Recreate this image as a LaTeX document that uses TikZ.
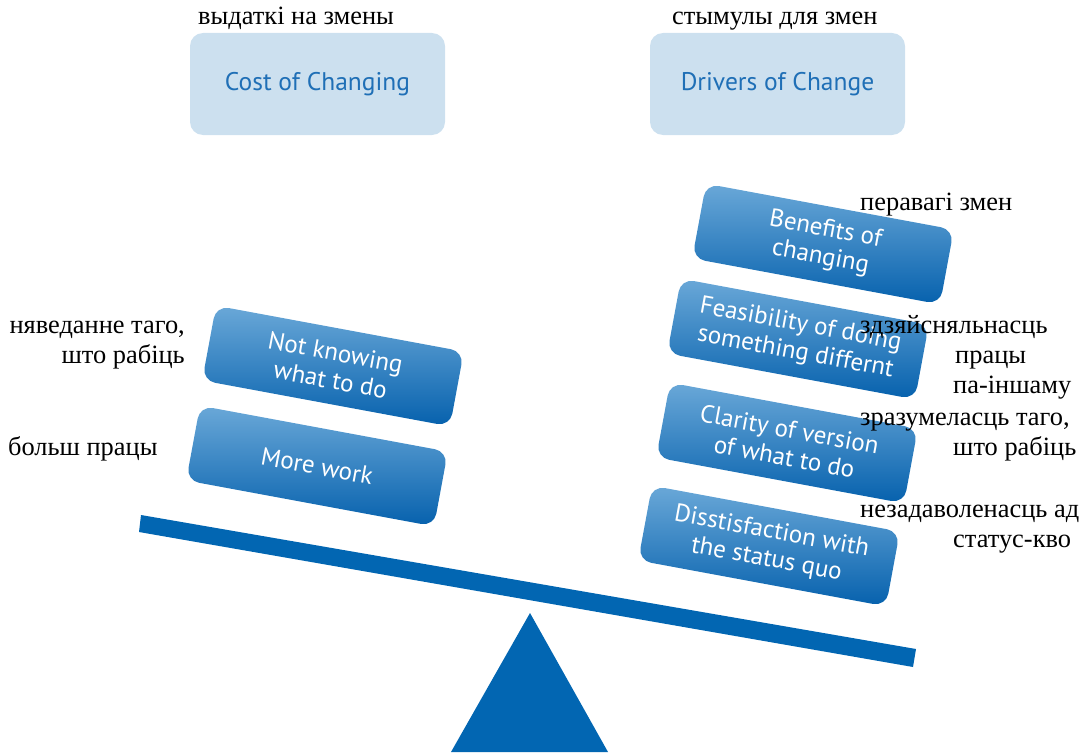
\documentclass[tikz,border=0pt]{standalone}
\usepackage{fontspec}
\setmainfont{Liberation Serif}
\newfontfamily\boxfont{PT Sans}
\definecolor{hdrfill}{HTML}{CCE0EF}
\definecolor{hdrtext}{HTML}{1F6FB6}
\definecolor{boxtop}{HTML}{6AA8D8}
\definecolor{boxbot}{HTML}{0661AD}
\definecolor{beamblue}{HTML}{0266B2}
\begin{document}
\begin{tikzpicture}[x=1pt,y=-1pt,
  hdr/.style={fill=hdrfill, rounded corners=13pt, minimum width=255pt, minimum height=102pt,
    inner sep=0pt, text=hdrtext, font=\boxfont\fontsize{25.5}{30}\selectfont},
  factor/.style={rotate=-10.5, top color=boxtop, bottom color=boxbot, rounded corners=13pt,
    minimum width=252pt, minimum height=76pt, inner sep=0pt, align=center, text=white,
    font=\boxfont\fontsize{25}{28}\selectfont},
  lbl/.style={inner sep=0pt, font=\fontsize{26.4}{30}\selectfont}
]
\useasboundingbox (0,0) rectangle (1086,752);
% headers
\node[hdr] (cost) at (317.5,84) {Cost of Changing};
\node[hdr] (drivers) at (777.5,84) {Drivers of Change};
\node[lbl, anchor=base west] (costlbl) at (198,25) {выдаткі на змены};
\node[lbl, anchor=base west] (drvlbl) at (672,25) {стымулы для змен};
% beam and fulcrum
\fill[beamblue] (141,515) -- (916,649) -- (913,667) -- (139,532) -- cycle;
\fill[beamblue] (530,613) -- (608,752) -- (451,752) -- cycle;
% left boxes
\node[factor] (notknow) at (333,366) {Not knowing\\what to do};
\node[factor] (more) at (317,466) {More work};
% right boxes
\node[factor] (benefits) at (823,244) {Benefits of\\changing};
\node[factor] (feas) at (798,339) {Feasibility of doing\\something differnt};
\node[factor] (clarity) at (787,443) {Clarity of version\\of what to do};
\node[factor] (diss) at (769,546) {Disstisfaction with\\the status quo};
% labels
\node[lbl, anchor=base east, align=right] (notknowlbl) at (185,363) {няведанне таго,\\што рабіць};
\node[lbl, anchor=base west] (morelbl) at (8,455) {больш працы};
\node[lbl, anchor=base west] (benlbl) at (860,210) {перавагі змен};
\node[lbl, anchor=base west, align=left] (feaslbl) at (860,393) {здзяйсняльнасць\\\hspace*{95pt}працы\\\hspace*{93pt}па-іншаму};
\node[lbl, anchor=base west, align=left] (clarlbl) at (860,455) {зразумеласць таго,\\\hspace*{93pt}што рабіць};
\node[lbl, anchor=base west, align=left] (disslbl) at (860,547) {незадаволенасць ад\\\hspace*{93pt}статус-кво};
\end{tikzpicture}
\end{document}
